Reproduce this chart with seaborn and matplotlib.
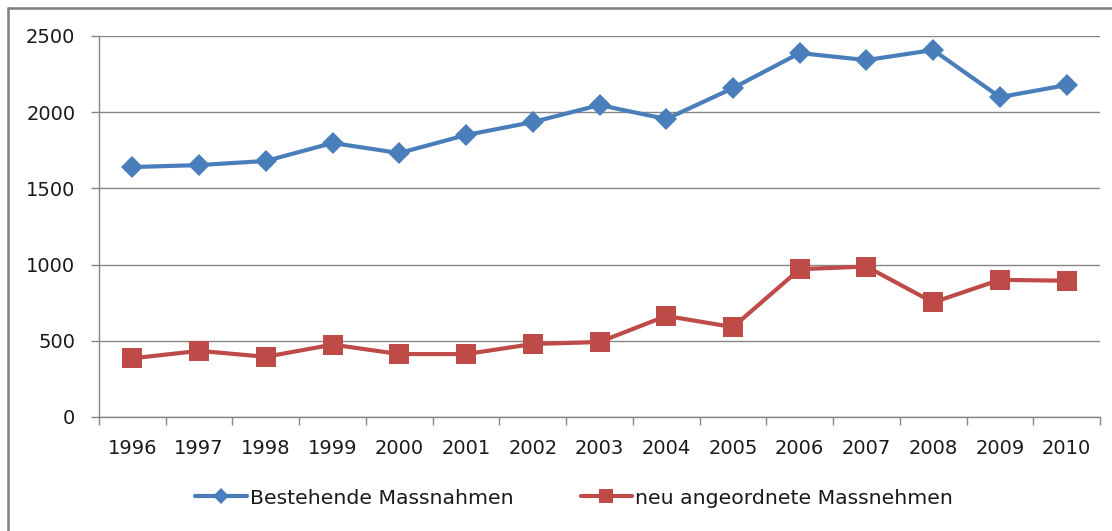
import pandas as pd
import numpy as np
import matplotlib
matplotlib.use('Agg')
import matplotlib.pyplot as plt
import seaborn as sns
from matplotlib.lines import Line2D

# %%
# Data
years = ['1996', '1997', '1998', '1999', '2000', '2001', '2002', '2003',
         '2004', '2005', '2006', '2007', '2008', '2009', '2010']
bestehende = [1640, 1653, 1680, 1798, 1732, 1850, 1935, 2047,
              1955, 2158, 2388, 2342, 2408, 2099, 2178]
neu = [385, 434, 395, 475, 413, 413, 479, 492,
       663, 590, 970, 987, 752, 900, 894]

label_a = 'Bestehende Massnahmen'
label_b = 'neu angeordnete Massnehmen'

df = pd.DataFrame({'pos': np.arange(len(years)), 'year': years,
                   label_a: bestehende, label_b: neu})

# %%
sns.set_style('white')
plt.rcParams['font.family'] = ['DejaVu Sans']

fig = plt.figure(figsize=(11.12, 5.31), dpi=100)
ax = fig.add_axes([99 / 1112, 1 - 417 / 531, (1100 - 99) / 1112, (417 - 36) / 531])

blue = '#4A7EBB'
red = '#BE4B48'
grid_col = '#868686'
text_col = '#1a1a1a'

sns.lineplot(data=df, x='pos', y=label_a, ax=ax, color=blue, lw=3.0,
             marker='D', markersize=11.5, markeredgewidth=0, label=label_a)
sns.lineplot(data=df, x='pos', y=label_b, ax=ax, color=red, lw=3.0,
             marker='s', markersize=14.5, markeredgewidth=0, label=label_b)

ax.set_xlim(-0.5, len(years) - 0.5)
ax.set_ylim(0, 2500)
ax.set_yticks(range(0, 2501, 500))
ax.set_xticks(df['pos'])
ax.set_xticklabels(years)
ax.set_xticks(np.arange(-0.5, len(years), 1), minor=True)
ax.set_xlabel('')
ax.set_ylabel('')

ax.yaxis.grid(True, color=grid_col, lw=1)
ax.set_axisbelow(True)
for s in ['top', 'right']:
    ax.spines[s].set_visible(False)
for s in ['left', 'bottom']:
    ax.spines[s].set_color(grid_col)
    ax.spines[s].set_linewidth(1)

ax.tick_params(axis='y', which='major', left=True, length=6, width=1,
               color=grid_col, labelsize=14, pad=11, labelcolor=text_col)
ax.tick_params(axis='x', which='major', bottom=False, length=0,
               labelsize=14, pad=16, labelcolor=text_col)
ax.tick_params(axis='x', which='minor', bottom=True, length=6, width=1,
               color=grid_col)

ax.get_legend().remove()
handles = [Line2D([0], [0], color=blue, lw=3.0, marker='D', markersize=8.5, markeredgewidth=0),
           Line2D([0], [0], color=red, lw=3.0, marker='s', markersize=10.5, markeredgewidth=0)]
fig.legend(handles, [label_a, label_b], loc='center', ncol=2,
           bbox_to_anchor=(574 / 1112, 1 - 498 / 531), frameon=False, fontsize=14.7,
           handlelength=2.5, handletextpad=0.15, columnspacing=3.3,
           labelcolor=text_col)

# chart frame (left and top edges visible in the reference)
fig.add_artist(Line2D([8 / 1112, 8 / 1112], [0, 1 - 8 / 531], color='#7F7F7F', lw=1.8,
                      transform=fig.transFigure))
fig.add_artist(Line2D([8 / 1112, 1], [1 - 8 / 531, 1 - 8 / 531], color='#7F7F7F', lw=1.8,
                      transform=fig.transFigure))

fig.savefig('out.png', dpi=100)
